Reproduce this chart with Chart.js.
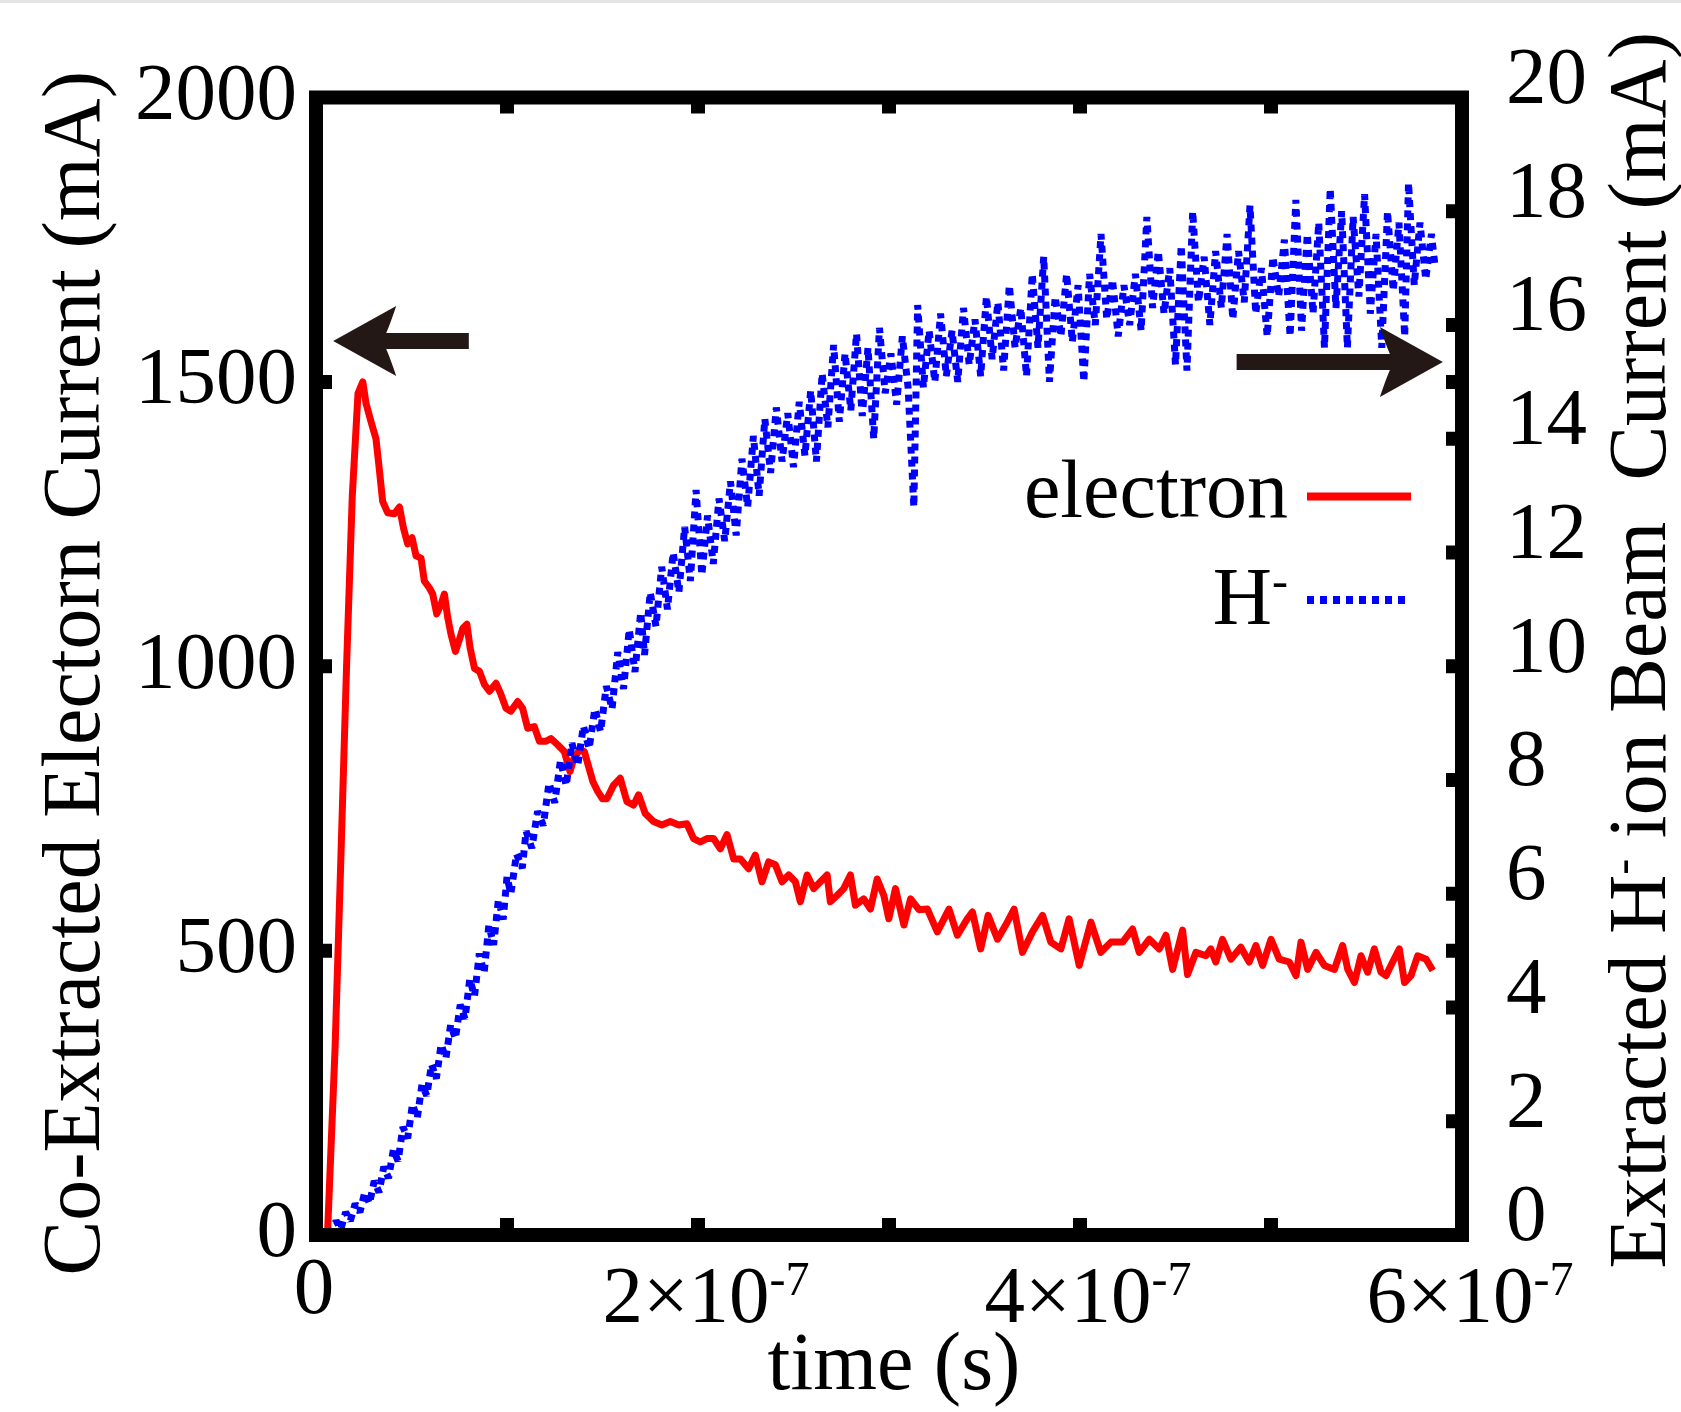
<!DOCTYPE html>
<html>
<head>
<meta charset="utf-8">
<title>Co-extracted electron and H- beam current</title>
<script src="https://cdn.jsdelivr.net/npm/chart.js@4.4.1/dist/chart.umd.min.js"></script>
<style>
    html, body { margin: 0; padding: 0; background: #fff; }
    canvas { display: block; }
</style>
</head>
<body>
<canvas id="chart" width="1681" height="1412"></canvas>
<script>
// time is kept in units of 1e-7 s
const electronTime = [
    0.06, 0.10, 0.13, 0.16, 0.19, 0.22, 0.245, 0.262, 0.288, 0.314, 0.332, 0.349, 0.375, 0.41, 0.437,
    0.458, 0.48, 0.503, 0.524, 0.55, 0.567, 0.593, 0.611, 0.632, 0.655, 0.672, 0.69, 0.707, 0.73, 0.748,
    0.769, 0.79, 0.807, 0.83, 0.856, 0.882, 0.908, 0.943, 0.969, 0.995, 1.02, 1.056, 1.082, 1.108, 1.143,
    1.17, 1.204, 1.23, 1.265, 1.30, 1.33, 1.35, 1.38, 1.405, 1.42, 1.45, 1.475, 1.50, 1.523, 1.558,
    1.593, 1.628, 1.663, 1.689, 1.724, 1.767, 1.811, 1.855, 1.899, 1.942, 1.977, 2.012, 2.047, 2.082, 2.117,
    2.152, 2.187, 2.222, 2.265, 2.30, 2.335, 2.37, 2.405, 2.44, 2.475, 2.51, 2.536, 2.571, 2.606, 2.641,
    2.676, 2.693, 2.728, 2.763, 2.798, 2.824, 2.868, 2.903, 2.938, 2.973, 2.999, 3.034, 3.078, 3.113, 3.157,
    3.201, 3.253, 3.314, 3.358, 3.41, 3.437, 3.48, 3.519, 3.568, 3.611, 3.655, 3.699, 3.751, 3.804, 3.847,
    3.90, 3.943, 3.996, 4.057, 4.109, 4.162, 4.223, 4.275, 4.31, 4.363, 4.415, 4.45, 4.485, 4.537, 4.563,
    4.607, 4.659, 4.685, 4.711, 4.746, 4.79, 4.842, 4.886, 4.921, 4.956, 5.0, 5.043, 5.096, 5.131, 5.157,
    5.192, 5.236, 5.279, 5.332, 5.375, 5.402, 5.437, 5.471, 5.506, 5.541, 5.576, 5.602, 5.637, 5.672, 5.699,
    5.733, 5.768, 5.812, 5.847
];
const electronCurrent = [
    0, 330, 660, 1000, 1300, 1480, 1500, 1462, 1430, 1400, 1345, 1290, 1270, 1268, 1280,
    1243, 1215, 1226, 1194, 1190, 1150, 1138, 1127, 1092, 1109, 1127, 1085, 1056, 1026, 1044,
    1067, 1074, 1032, 996, 991, 968, 956, 970, 950, 926, 921, 938, 926, 891, 894,
    868, 868, 873, 862, 850, 815, 838, 853, 850, 832, 797, 780, 767, 767, 791,
    803, 762, 756, 774, 741, 727, 721, 727, 721, 723, 697, 691, 697, 697, 679,
    704, 661, 661, 644, 668, 621, 656, 651, 621, 633, 621, 586, 633, 609, 621,
    633, 586, 597, 609, 633, 580, 591, 573, 626, 597, 556, 609, 545, 591, 572,
    573, 533, 573, 527, 556, 568, 503, 562, 520, 545, 573, 497, 533, 562, 515,
    503, 556, 474, 550, 497, 515, 515, 538, 497, 520, 503, 527, 467, 536, 458,
    497, 491, 503, 480, 520, 485, 506, 480, 509, 474, 520, 485, 480, 456, 515,
    467, 497, 474, 467, 509, 467, 444, 491, 462, 503, 462, 456, 480, 503, 444,
    456, 491, 485, 465
];

const hminusTime = [
    0.08, 0.105, 0.13, 0.155, 0.18, 0.205, 0.23, 0.255, 0.28, 0.305, 0.33, 0.355, 0.38, 0.405, 0.43,
    0.455, 0.48, 0.505, 0.53, 0.555, 0.58, 0.605, 0.63, 0.655, 0.68, 0.705, 0.73, 0.755, 0.78, 0.805,
    0.83, 0.855, 0.88, 0.905, 0.93, 0.955, 0.98, 1.00, 1.02, 1.05,
    1.08, 1.10, 1.13, 1.16, 1.19, 1.22, 1.25, 1.28, 1.31, 1.34, 1.37, 1.40, 1.43, 1.46, 1.49,
    1.52, 1.55, 1.58, 1.61, 1.64, 1.67, 1.70, 1.72, 1.75, 1.78, 1.81, 1.84, 1.87, 1.90, 1.93,
    1.96, 1.99, 2.02, 2.05, 2.08, 2.11, 2.14, 2.17, 2.20, 2.23, 2.26, 2.29, 2.32, 2.35, 2.38,
    2.41, 2.44, 2.47, 2.50, 2.53, 2.56, 2.59, 2.62, 2.65, 2.68, 2.71, 2.74, 2.77, 2.80, 2.83,
    2.86, 2.89, 2.92, 2.95, 2.98, 3.01, 3.04, 3.07, 3.10, 3.13, 3.15, 3.18, 3.21, 3.24, 3.27,
    3.30, 3.33, 3.36, 3.39, 3.42, 3.45, 3.48, 3.51, 3.54, 3.57, 3.60, 3.63, 3.66, 3.69, 3.72,
    3.75, 3.78, 3.81, 3.84, 3.87, 3.90, 3.93, 3.96, 3.99, 4.02, 4.05, 4.08, 4.11, 4.14, 4.17,
    4.20, 4.23, 4.26, 4.29, 4.32, 4.35, 4.38, 4.41, 4.44, 4.47, 4.50, 4.53, 4.56, 4.59, 4.62,
    4.65, 4.68, 4.71, 4.74, 4.77, 4.80, 4.83, 4.86, 4.89, 4.92, 4.95, 4.98, 5.01, 5.04, 5.07,
    5.10, 5.13, 5.16, 5.19, 5.22, 5.25, 5.28, 5.31, 5.34, 5.37, 5.40, 5.43, 5.46, 5.49, 5.52,
    5.55, 5.58, 5.61, 5.64, 5.67, 5.70, 5.72, 5.75, 5.78, 5.81, 5.84, 5.86
];
const hminusCurrent = [
    0.0, 0.25, 0.1, 0.4, 0.25, 0.55, 0.4, 0.75, 0.55, 0.95, 0.75, 1.2, 1.0, 1.5, 1.3,
    1.9, 1.7, 2.3, 2.05, 2.65, 2.45, 3.0, 2.75, 3.35, 3.1, 3.7, 3.45, 4.05, 3.8, 4.5,
    4.2, 4.95, 4.6, 5.45, 5.1, 5.9, 5.55, 6.3, 6.0, 6.7,
    6.45, 7.1, 6.8, 7.45, 7.2, 7.95, 7.6, 8.35, 7.9, 8.65, 8.25, 8.95, 8.55, 9.25, 8.85,
    9.65, 9.25, 10.25, 9.6, 10.65, 9.9, 10.95, 10.2, 11.3, 10.7, 11.75, 11.0, 12.0, 11.3, 12.45,
    11.5, 13.1, 11.6, 12.65, 11.8, 12.95, 12.2, 13.25, 12.3, 13.65, 12.8, 14.05, 13.0, 14.35, 13.4,
    14.55, 13.6, 14.45, 13.5, 14.65, 13.7, 14.85, 13.6, 15.15, 14.2, 15.65, 14.3, 15.5, 14.5, 15.85,
    14.4, 15.6, 14.0, 15.95, 14.8, 15.5, 14.6, 15.8, 14.9, 12.8, 16.35, 14.9, 15.9, 15.0, 16.2,
    15.1, 15.9, 15.0, 16.3, 15.3, 16.1, 15.1, 16.5, 15.4, 16.4, 15.2, 16.7, 15.6, 16.3, 15.1,
    16.9, 15.6, 17.2, 15.0, 16.5, 15.8, 16.9, 15.7, 16.7, 15.0, 16.9, 16.0, 17.6, 16.1, 16.8,
    15.8, 16.7, 16.0, 16.9, 15.9, 17.9, 16.3, 17.3, 16.2, 17.0, 15.3, 17.4, 15.2, 18.0, 16.4,
    17.2, 16.0, 17.3, 16.3, 17.6, 16.1, 17.3, 16.4, 18.1, 16.2, 17.0, 15.8, 17.2, 16.5, 17.5,
    15.8, 18.2, 15.9, 17.6, 16.2, 17.8, 15.6, 18.4, 16.3, 18.0, 15.6, 17.9, 16.5, 18.3, 16.2,
    17.6, 15.6, 18.0, 16.6, 17.8, 15.8, 18.5, 16.7, 17.8, 16.8, 17.6, 17.0
];

const xMinorTicks = [1, 2, 3, 4, 5];
const xLabelValues = [0, 2, 4, 6];
const xLabelBase = ["0", "2×10", "4×10", "6×10"];
const xLabelExp = ["", "-7", "-7", "-7"];
const leftTicks = [0, 500, 1000, 1500, 2000];
const rightTicks = [0, 2, 4, 6, 8, 10, 12, 14, 16, 18, 20];

// arrows: tail and tip in time units, level on the left axis (mA)
const arrowTail = [0.80, 4.82];
const arrowTip = [0.09, 5.90];
const arrowLevel = [1572, 1535];

const SERIF = "\"Liberation Serif\", \"DejaVu Serif\", \"Times New Roman\", serif";
const RED = "#ff0000";
const BLUE = "#0000ff";
const INK = "#000000";

function font(size) {
    return `${size}px ${SERIF}`;
}

// runs of normal / superscript text laid out in a row
function runsWidth(ctx, runs) {
    let w = 0;
    for (const r of runs) {
        ctx.font = font(r.sup ? 48 : r.size || 81);
        w += ctx.measureText(r.text).width;
    }
    return w;
}

function drawRuns(ctx, runs, x, y, align) {
    const total = runsWidth(ctx, runs);
    let cx = align === "center" ? x - total / 2 : align === "right" ? x - total : x;
    ctx.textAlign = "left";
    ctx.textBaseline = "alphabetic";
    for (const r of runs) {
        ctx.font = font(r.sup ? 48 : r.size || 81);
        ctx.fillText(r.text, cx, r.sup ? y - 27 : y);
        cx += ctx.measureText(r.text).width;
    }
}

function drawArrow(ctx, xTail, xTip, y) {
    const d = xTip > xTail ? 1 : -1;
    const half = 8;
    ctx.beginPath();
    ctx.moveTo(xTip, y);
    ctx.lineTo(xTip - d * 63, y - 35);
    ctx.quadraticCurveTo(xTip - d * 57, y - 17, xTip - d * 53, y - half);
    ctx.lineTo(xTail, y - half);
    ctx.lineTo(xTail, y + half);
    ctx.lineTo(xTip - d * 53, y + half);
    ctx.quadraticCurveTo(xTip - d * 57, y + 17, xTip - d * 63, y + 35);
    ctx.closePath();
    ctx.fill();
}

const framePlugin = {
    id: "frame",
    beforeDraw(chart) {
        const ctx = chart.ctx;
        ctx.save();
        ctx.fillStyle = "#ffffff";
        ctx.fillRect(0, 0, chart.width, chart.height);
        ctx.fillStyle = "#e4e4e4";
        ctx.fillRect(0, 0, chart.width, 3);
        ctx.restore();
    },
    afterDatasetsDraw(chart) {
        const ctx = chart.ctx;
        const { left, right, top, bottom } = chart.chartArea;
        const x = chart.scales.x;
        const y = chart.scales.y;
        const y1 = chart.scales.y1;
        ctx.save();

        // border and inward ticks
        ctx.strokeStyle = INK;
        ctx.lineWidth = 14;
        ctx.lineJoin = "miter";
        ctx.strokeRect(left, top, right - left, bottom - top);

        ctx.beginPath();
        xMinorTicks.forEach((v) => {
            const px = x.getPixelForValue(v);
            ctx.moveTo(px, bottom);
            ctx.lineTo(px, bottom - 17);
            ctx.moveTo(px, top);
            ctx.lineTo(px, top + 16);
        });
        leftTicks.slice(1, -1).forEach((v) => {
            const py = y.getPixelForValue(v);
            ctx.moveTo(left, py);
            ctx.lineTo(left + 16, py);
            ctx.moveTo(right, py);
            ctx.lineTo(right - 16, py);
        });
        rightTicks.slice(1, -1).forEach((v) => {
            const py = y1.getPixelForValue(v);
            ctx.moveTo(right, py);
            ctx.lineTo(right - 16, py);
        });
        ctx.stroke();

        // arrows
        ctx.fillStyle = "#231815";
        arrowTail.forEach((t, i) => {
            drawArrow(ctx, x.getPixelForValue(t), x.getPixelForValue(arrowTip[i]), y.getPixelForValue(arrowLevel[i]));
        });

        // tick labels
        ctx.fillStyle = INK;
        ctx.font = font(81);
        ctx.textBaseline = "middle";
        ctx.textAlign = "right";
        leftTicks.forEach((v) => ctx.fillText(String(v), left - 19, y.getPixelForValue(v)));
        ctx.textAlign = "left";
        rightTicks.forEach((v) => ctx.fillText(String(v), right + 44, y1.getPixelForValue(v) - 16));

        xLabelValues.forEach((v, i) => {
            const px = x.getPixelForValue(v);
            if (xLabelExp[i]) {
                drawRuns(ctx, [{ text: xLabelBase[i] }, { text: xLabelExp[i], sup: true }], px + 8, bottom + 87, "center");
            } else {
                drawRuns(ctx, [{ text: xLabelBase[i] }], px - 2, bottom + 78, "center");
            }
        });

        // axis titles
        drawRuns(ctx, [{ text: "time (s)", size: 82 }], (left + right) / 2 + 5, bottom + 154, "center");

        ctx.save();
        ctx.translate(99, (top + bottom) / 2 + 7);
        ctx.rotate(-Math.PI / 2);
        drawRuns(ctx, [{ text: "Co-Extracted Electorn Current (mA)", size: 82 }], 0, 0, "center");
        ctx.restore();

        ctx.save();
        ctx.translate(1665, (top + bottom) / 2 - 16);
        ctx.rotate(-Math.PI / 2);
        drawRuns(ctx, [
            { text: "Extracted H", size: 82 },
            { text: "-", sup: true },
            { text: " ion Beam  Current (mA)", size: 82 }
        ], 0, 0, "center");
        ctx.restore();

        // key
        drawRuns(ctx, [{ text: "electron", size: 82 }], right - 174, top + 419.5, "right");
        drawRuns(ctx, [{ text: "H", size: 82 }, { text: "-", sup: true }], right - 174, top + 526.5, "right");

        ctx.lineWidth = 8;
        ctx.lineCap = "butt";
        ctx.strokeStyle = RED;
        ctx.beginPath();
        ctx.moveTo(right - 155, top + 399);
        ctx.lineTo(right - 51, top + 399);
        ctx.stroke();

        ctx.strokeStyle = BLUE;
        ctx.setLineDash([7, 6]);
        ctx.beginPath();
        ctx.moveTo(right - 155, top + 502.5);
        ctx.lineTo(right - 57, top + 502.5);
        ctx.stroke();

        ctx.restore();
    }
};

const chart = new Chart(document.getElementById("chart"), {
    type: "line",
    data: {
        datasets: [
            {
                label: "electron",
                data: electronTime.map((t, i) => ({ x: t, y: electronCurrent[i] })),
                yAxisID: "y",
                order: 1,
                borderColor: RED,
                borderWidth: 7,
                borderJoinStyle: "round",
                pointRadius: 0,
                tension: 0,
                fill: false,
            },
            {
                label: "H-",
                data: hminusTime.map((t, i) => ({ x: t, y: hminusCurrent[i] })),
                yAxisID: "y1",
                order: 0,
                borderColor: BLUE,
                borderWidth: 7,
                borderDash: [7, 6],
                borderJoinStyle: "bevel",
                pointRadius: 0,
                tension: 0,
                fill: false,
            }
        ]
    },
    options: {
        responsive: false,
        devicePixelRatio: 1,
        animation: false,
        layout: {
            padding: { left: 316, right: 219, top: 97.5, bottom: 177 }
        },
        plugins: {
            legend: { display: false },
            tooltip: { enabled: false }
        },
        scales: {
            x: { type: "linear", min: 0, max: 6, display: false },
            y: { type: "linear", position: "left", min: 0, max: 2000, display: false },
            y1: { type: "linear", position: "right", min: 0, max: 20, display: false }
        }
    },
    plugins: [framePlugin]
});
</script>
</body>
</html>
